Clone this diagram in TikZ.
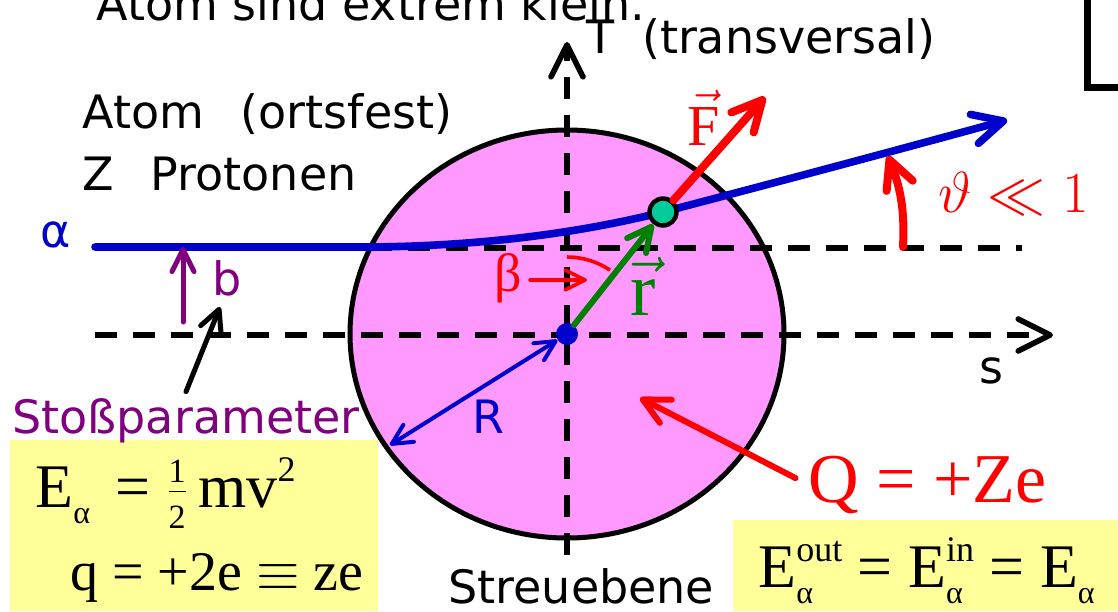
\RequirePackage{fix-cm}
\documentclass[tikz,border=0pt]{standalone}
\usepackage{fontspec}
\setmainfont{DejaVu Sans}
\newfontfamily\tnr{Liberation Serif}
\usetikzlibrary{arrows.meta, positioning}

\definecolor{atompink}{HTML}{FF99FF}
\definecolor{trajblue}{HTML}{0000CC}
\definecolor{probegreen}{HTML}{00CC99}
\definecolor{rgreen}{HTML}{008000}
\definecolor{boxyellow}{HTML}{FFFF99}
\definecolor{bpurple}{HTML}{800080}

% sub- and superscripts for the energy formulas
\newcommand{\subal}[1]{\raisebox{-8pt}{\fontsize{16}{16}\selectfont #1}}
\newcommand{\supx}[1]{\raisebox{13pt}{\fontsize{18}{18}\selectfont #1}}
\newcommand{\subsup}[2]{\rlap{\subal{#1}}\supx{#2}}
\newcommand{\halffrac}{$\frac{\hbox{\fontsize{17}{17}\selectfont 1}}{\hbox{\fontsize{17}{17}\selectfont 2}}$}

\begin{document}
\begin{tikzpicture}[
    x=0.5pt, y=0.5pt,
    font=\fontsize{23}{27}\selectfont,
    axis/.style={
        line width=2.8pt,
        dash pattern=on 11pt off 8pt,
        -{Straight Barb[length=16pt, width=16pt, round]}
    },
    guide/.style={
        line width=2.8pt,
        dash pattern=on 11pt off 8pt
    },
    arrow/.style={
        -{Straight Barb[length=#1, width=#1, round]},
        line cap=round
    },
    arrow/.default=12pt,
    lab/.style={anchor=base, inner sep=0pt},
    txt/.style={anchor=base west, inner sep=0pt},
    formula/.style={
        anchor=base west,
        inner sep=0pt,
        font=\tnr\fontsize{31}{34}\selectfont
    }
]

\useasboundingbox (0,0) rectangle (1118,-611);
\clip (0,0) rectangle (1118,-611);

% yellow boxes
\fill[boxyellow] (10,-440) rectangle (378,-611);
\fill[boxyellow] (733,-520) rectangle (1130,-611);

% atom
\filldraw[fill=atompink, line width=2.5pt] (567,-334) ellipse [x radius=217, y radius=204];

% axes
\coordinate (sL) at (95,-335);
\coordinate (sR) at (1053,-335);
\coordinate (tB) at (567,-555);
\coordinate (tT) at (567,-42);
\coordinate (bL) at (370,-248);
\coordinate (bR) at (1022,-248);

\draw[axis] (sL) -- (sR);
\draw[axis] (tB) -- (tT);
\draw[guide] (bL) -- (bR);

% alpha trajectory
\coordinate (aIn) at (95,-247);
\coordinate (aOut) at (1007,-120);
\draw[trajblue, line width=3.8pt, arrow=15pt]
    (aIn) -- (370,-247) .. controls (500,-246) and (600,-228) .. (663,-212)
    .. controls (720,-197) and (850,-163) .. (aOut);

% nucleus and alpha particle
\node[circle, fill=trajblue, inner sep=0pt, minimum size=11pt] (Z) at (567,-334) {};
\node[circle, draw, fill=probegreen, line width=2.2pt, inner sep=0pt, minimum size=13.5pt] (P) at (663,-212) {};

% vectors
\coordinate (Ftip) at (765,-97);
\coordinate (Redge) at (390,-445);
\draw[red, line width=4pt, arrow=15pt] (P) -- (Ftip);
\draw[rgreen, line width=3pt, arrow=12pt] (Z) -- (P);
\draw[trajblue, line width=2pt, {Straight Barb[length=10pt, width=10pt, round]}-{Straight Barb[length=10pt, width=10pt, round]}] (Z) -- (Redge);

% angle beta
\draw[red, line width=1.8pt] (Z) ++(90:77) arc[start angle=90, end angle=56, radius=77];
\node[lab, text=red, font=\tnr\fontsize{27}{30}\selectfont] (beta) at (508,-291) {β};
\coordinate (betaTip) at (587,-280);
\draw[red, line width=1.8pt, arrow=10pt] ([xshift=4pt]beta.east |- betaTip) -- (betaTip);

% labels
\node[txt] (title) at (96,-20) {Atom sind extrem klein.};
\node[txt] (tlab) at (586,-53) {T\hspace{0.6em}(transversal)};
\node[txt] (atom) at (82,-128) {Atom\hspace{0.8em}(ortsfest)};
\node[txt] (prot) at (82,-190) {Z\hspace{0.8em}Protonen};
\node[lab, text=trajblue] (alpha) at (56,-247) {α};
\node[lab, text=trajblue] (Rlab) at (488,-433) {R};
\node[lab] (slab) at (991,-383) {s};
\node[txt] (plane) at (448,-603) {Streuebene};
\node[lab, text=red, font=\tnr\fontsize{29}{34}\selectfont] (Flab) at (704,-145) {$\vec{\hbox{F}}$};
\node[lab, text=rgreen, font=\tnr\fontsize{38}{42}\selectfont] (rlab) at (643,-315) {$\vec{\hbox{r}}$};

% impact parameter
\coordinate (b0) at (183,-322);
\coordinate (b1) at (183,-247);
\draw[bpurple, line width=2.5pt, arrow=11pt] (b0) -- (b1);
\node[lab, text=bpurple] (blab) at (227,-295) {b};
\node[txt, text=bpurple] (stoss) at (12,-433) {Stoßparameter};
\coordinate (bptr) at (220,-307);
\draw[line width=2.5pt, arrow=11pt] ([yshift=3pt]stoss.north) -- (bptr);

% scattering angle
\coordinate (thB) at (903,-247);
\coordinate (thT) at (888,-156);
\draw[red, line width=4pt, arrow=14pt] (thB) to[bend right=12] (thT);
\node[txt, text=red, font=\fontsize{29}{34}\selectfont] (theta) at (938,-212) {$\vartheta \ll 1$};

% nuclear charge
\node[txt, text=red, font=\tnr\fontsize{35}{40}\selectfont] (Q) at (808,-502) {Q = +Ze};
\coordinate (Qtip) at (640,-398);
\draw[red, line width=3pt, arrow=13pt, shorten <=7pt] (Q.west) -- (Qtip);

% formulas
\node[formula] (ekin) at (35,-507) {E\subal{α}\, = \halffrac\,mv\supx{2}};
\node[formula, font=\tnr\fontsize{28}{31}\selectfont] (charge) at (70,-590) {q = +2e $\equiv$ ze};
\node[formula] (energy) at (758,-587) {E\subsup{α}{out} = E\subsup{α}{in} = E\subal{α}};

% frame corner
\draw[line width=3.5pt] (1087,0) -- (1087,-87) -- (1130,-87);

\end{tikzpicture}
\end{document}
